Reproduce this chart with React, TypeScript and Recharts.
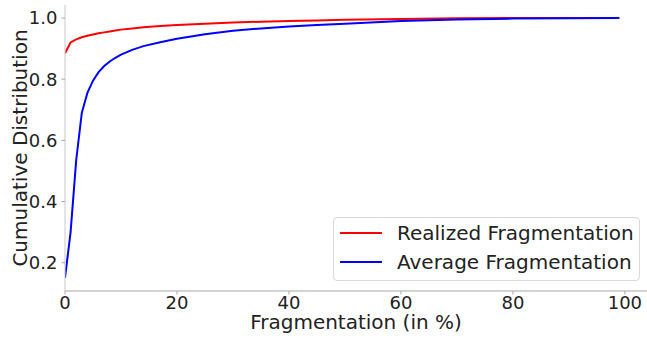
import { Label, Legend, Line, LineChart, XAxis, YAxis } from "recharts";

const fragmentation = [0, 1, 2, 3, 4, 5, 6, 7, 8, 9, 10, 12, 14, 17, 20, 25, 30, 35, 40, 45, 50, 60, 70, 80, 90, 99];
const realized = [0.885, 0.92, 0.93, 0.937, 0.942, 0.946, 0.95, 0.953, 0.956, 0.959, 0.962, 0.966, 0.97, 0.974, 0.977, 0.981, 0.985, 0.988, 0.99, 0.992, 0.994, 0.997, 0.999, 1.0, 1.0, 1.0];
const average = [0.15, 0.3, 0.535, 0.69, 0.755, 0.795, 0.823, 0.843, 0.858, 0.87, 0.88, 0.896, 0.908, 0.921, 0.932, 0.947, 0.958, 0.966, 0.972, 0.977, 0.981, 0.99, 0.995, 0.998, 0.999, 1.0];

const seriesNames = ["Realized Fragmentation", "Average Fragmentation"];
const xTicks = [0, 20, 40, 60, 80, 100];
const yTicks = [0.2, 0.4, 0.6, 0.8, 1.0];

const data = fragmentation.map((x, i) => ({ x, realized: realized[i], average: average[i] }));

const FONT = "DejaVu Sans";
const tickStyle = { fill: "#222", fontSize: 18, fontFamily: FONT };

function YLabel({ viewBox }: any) {
  const cy = viewBox.y + viewBox.height / 2;
  return (
    <text
      x={27}
      y={cy}
      transform={`rotate(-90, 27, ${cy})`}
      textAnchor="middle"
      fill="#222"
      fontSize={20}
      fontFamily={FONT}
    >
      Cumulative Distribution
    </text>
  );
}

function LegendBox({ payload }: any) {
  // keep plotting order, not the alphabetical one
  const items = [...(payload || [])].sort(
    (a: any, b: any) => seriesNames.indexOf(a.value) - seriesNames.indexOf(b.value)
  );
  return (
    <div
      style={{
        boxSizing: "border-box",
        width: 307,
        height: 64,
        border: "1px solid #d9d9d9",
        borderRadius: 4,
        background: "rgba(255,255,255,0.8)",
        fontFamily: FONT,
        fontSize: 20,
        color: "#222",
        paddingTop: 0,
      }}
    >
      {items.map((entry: any) => (
        <div key={entry.value} style={{ display: "flex", alignItems: "center", height: 29 }}>
          <div style={{ width: 42, height: 2, background: entry.color, marginLeft: 6, marginRight: 15 }} />
          <span>{entry.value}</span>
        </div>
      ))}
    </div>
  );
}

export default function App() {
  return (
    <div style={{ position: "absolute", left: 0, top: 0, background: "#fff" }}>
      <LineChart width={647} height={338} data={data} margin={{ top: 5, right: 0, left: 0, bottom: 0 }}>
        <XAxis
          dataKey="x"
          type="number"
          domain={[0, 103.95]}
          ticks={xTicks}
          allowDataOverflow
          height={47}
          tick={tickStyle}
          tickSize={3.5}
          tickMargin={2}
          stroke="#a8a8a8"
          tickLine={{ stroke: "#a8a8a8" }}
        >
          <Label
            value="Fragmentation (in %)"
            position="insideBottom"
            offset={9}
            fill="#222"
            fontSize={20}
            fontFamily={FONT}
          />
        </XAxis>
        <XAxis
          xAxisId="top"
          orientation="top"
          dataKey="x"
          type="number"
          domain={[0, 103.95]}
          height={0}
          tick={false}
          tickLine={false}
          stroke="#d8d8d8"
        />
        <YAxis
          type="number"
          domain={[0.1075, 1.0425]}
          ticks={yTicks}
          allowDataOverflow
          width={65}
          tick={tickStyle}
          tickFormatter={(v) => Number(v).toFixed(1)}
          tickSize={3.5}
          tickMargin={4}
          stroke="#c8c8c8"
          tickLine={{ stroke: "#a8a8a8" }}
        >
          <Label content={<YLabel />} />
        </YAxis>
        <Legend
          layout="vertical"
          align="center"
          verticalAlign="middle"
          wrapperStyle={{ left: 333, top: 217, width: 307, height: 64 }}
          content={<LegendBox />}
        />
        <Line
          name={seriesNames[0]}
          dataKey="realized"
          type="linear"
          stroke="#ff0000"
          strokeWidth={2}
          dot={false}
          isAnimationActive={false}
        />
        <Line
          name={seriesNames[1]}
          dataKey="average"
          type="linear"
          stroke="#0000ff"
          strokeWidth={2}
          dot={false}
          isAnimationActive={false}
        />
      </LineChart>
    </div>
  );
}
